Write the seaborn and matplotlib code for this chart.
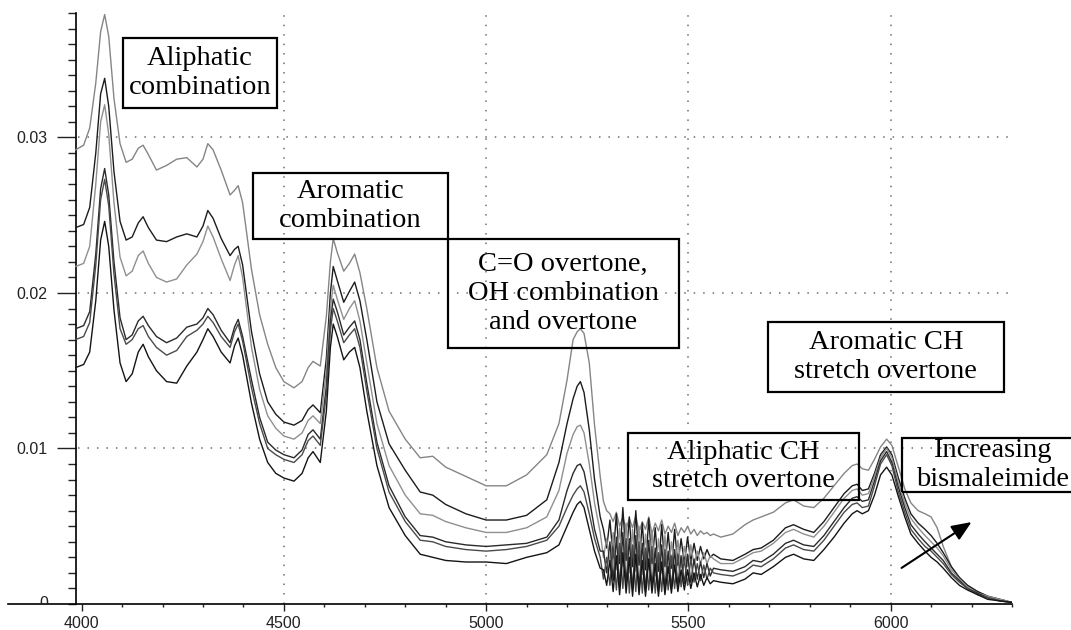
import numpy as np
import pandas as pd
import matplotlib
matplotlib.use("Agg")
import matplotlib.pyplot as plt
import seaborn as sns
from matplotlib.patches import Rectangle, ArrowStyle
from matplotlib.transforms import ScaledTranslation
from matplotlib.ticker import FixedLocator, MultipleLocator, FuncFormatter

# ---------------- data (absorbance values in units of 1e-3) ----------------
WAVENUMBER = [
    3985, 4005, 4020, 4035, 4047, 4057, 4067, 4080, 4095, 4110, 4125, 4140, 4152, 4165, 4185, 4210,
    4235, 4260, 4285, 4300, 4312, 4325, 4345, 4367, 4378, 4387, 4398, 4420, 4440, 4460, 4480, 4500,
    4525, 4545, 4560, 4572, 4590, 4605, 4615, 4622, 4632, 4648, 4662, 4675, 4688, 4705, 4730, 4760,
    4800, 4837, 4868, 4900, 4950, 5000, 5050, 5100, 5150, 5180, 5200, 5215, 5225, 5233, 5242, 5255,
    5268, 5282,
    5290, 5298, 5306, 5314, 5322, 5330, 5338, 5346, 5354, 5362, 5370, 5378, 5386, 5394, 5402, 5410,
    5418, 5426, 5434, 5442, 5450, 5458, 5466, 5474, 5482, 5490, 5498, 5506, 5514, 5522, 5530, 5538,
    5546, 5554, 5562,
    5580, 5610, 5640, 5660, 5680, 5710, 5740, 5760, 5785, 5810, 5835, 5860, 5885, 5905, 5917, 5930,
    5945, 5960, 5975, 5990, 6003, 6018, 6035, 6050, 6068, 6085, 6100, 6115, 6130, 6150, 6170, 6190,
    6215, 6240, 6270, 6300,
]

SAMPLE_1 = [
    29.2, 29.5, 30.6, 33.5, 36.8, 37.9, 36.5, 32.5, 29.6, 28.4, 28.6, 29.3, 29.5, 28.9, 27.9, 28.2,
    28.6, 28.7, 28.1, 28.6, 29.6, 29.2, 27.9, 26.3, 26.6, 26.9, 25.8, 21.5, 18.6, 16.7, 15.2, 14.3,
    13.9, 14.3, 15.2, 15.6, 15.3, 18.5, 22.0, 23.5, 22.6, 21.4, 21.9, 22.5, 21.3, 19.0, 15.2, 12.4,
    10.6, 9.4, 9.5, 8.8, 8.2, 7.6, 7.6, 8.3, 9.6, 11.6, 14.4, 17.0, 17.5, 17.7, 17.4, 15.5,
    11.5, 8.2,
    6.6, 6.0, 5.8, 5.3, 5.9, 5.0, 5.6, 4.8, 5.5, 4.9, 5.7, 4.6, 5.3, 4.8, 5.6, 4.5,
    5.2, 4.7, 5.4, 4.5, 5.0, 4.6, 5.2, 4.4, 4.9, 4.6, 5.0, 4.5, 4.8, 4.4, 4.7, 4.5,
    4.6, 4.4, 4.5,
    4.3, 4.5, 5.1, 5.4, 5.6, 5.9, 6.5, 6.7, 6.3, 6.2, 6.8, 7.6, 8.4, 8.9, 9.0, 8.7,
    8.6, 9.3, 10.1, 10.6, 10.2, 8.9, 7.4, 6.5, 6.0, 5.8, 5.6, 4.9, 3.7, 2.4, 1.7, 1.2,
    0.8, 0.5, 0.3, 0.1,
]

SAMPLE_2 = [
    24.2, 24.4, 25.5, 29.0, 32.8, 33.8, 32.0, 27.8, 24.6, 23.4, 23.6, 24.5, 24.9, 24.2, 23.4, 23.3,
    23.6, 23.8, 23.6, 24.3, 25.3, 24.8, 23.5, 22.4, 22.8, 23.0, 21.8, 17.5, 14.8, 13.0, 12.2, 11.7,
    11.5, 11.8, 12.5, 12.8, 12.3, 15.8, 20.0, 21.7, 20.8, 19.4, 20.1, 20.7, 19.5, 17.0, 13.0, 10.3,
    8.6, 7.2, 7.0, 6.4, 5.8, 5.4, 5.4, 5.7, 6.7, 9.1, 11.6, 13.2, 14.0, 14.3, 13.6, 11.2,
    8.0, 5.6,
    4.8, 3.6, 5.4, 3.0, 5.8, 2.6, 6.2, 2.8, 5.6, 2.4, 6.0, 2.5, 5.2, 2.2, 5.5, 2.6,
    4.9, 2.1, 5.1, 2.4, 4.6, 2.3, 4.8, 2.5, 4.2, 2.6, 4.3, 2.7, 3.9, 2.8, 3.7, 2.9,
    3.5, 3.0, 3.2,
    2.9, 2.8, 3.2, 3.5, 3.6, 4.1, 4.9, 5.1, 4.8, 4.6, 5.3, 6.2, 7.1, 7.6, 7.7, 7.3,
    7.4, 8.4, 9.6, 10.1, 9.6, 8.2, 6.8, 5.8, 5.2, 4.8, 4.4, 3.9, 3.3, 2.4, 1.7, 1.2,
    0.8, 0.5, 0.3, 0.1,
]

SAMPLE_3 = [
    21.7, 21.9, 23.0, 27.0, 31.0, 32.1, 30.2, 25.8, 22.3, 21.1, 21.4, 22.4, 22.7, 21.9, 21.0, 20.7,
    20.9, 21.8, 22.5, 23.3, 24.3, 23.6, 22.2, 20.8, 21.8, 22.4, 21.0, 16.5, 13.8, 12.1, 11.3, 10.8,
    10.6, 11.0, 11.8, 12.1, 11.6, 15.0, 19.0, 20.5, 19.6, 18.3, 19.0, 19.5, 18.2, 15.5, 11.6, 8.9,
    7.0, 5.8, 5.7, 5.3, 4.9, 4.6, 4.6, 4.9, 5.6, 7.3, 9.7, 10.9, 11.4, 11.5, 11.0, 9.0,
    6.5, 4.6,
    3.0, 4.2, 2.6, 4.6, 2.2, 4.9, 2.4, 5.2, 2.0, 4.8, 2.1, 5.0, 1.9, 4.5, 2.2, 4.7,
    1.8, 4.2, 2.0, 4.4, 2.0, 4.0, 2.2, 4.1, 2.3, 3.7, 2.4, 3.8, 2.5, 3.4, 2.6, 3.3,
    2.6, 3.1, 2.9,
    2.6, 2.6, 3.0, 3.3, 3.4, 3.9, 4.6, 4.8, 4.5, 4.3, 5.0, 5.9, 6.8, 7.3, 7.4, 7.0,
    7.1, 8.2, 9.4, 10.0, 9.4, 7.9, 6.5, 5.5, 4.9, 4.4, 4.0, 3.6, 3.1, 2.2, 1.6, 1.1,
    0.7, 0.5, 0.3, 0.1,
]

SAMPLE_4 = [
    17.7, 17.9, 18.8, 22.5, 26.7, 28.0, 26.3, 22.0, 18.4, 17.0, 17.3, 18.2, 18.5, 17.9, 17.2, 16.8,
    17.1, 17.8, 18.0, 18.4, 19.0, 18.6, 17.6, 16.8, 17.8, 18.3, 17.2, 14.4, 12.0, 10.4, 9.9, 9.6,
    9.4, 9.9, 10.9, 11.2, 10.6, 14.0, 18.2, 19.6, 18.8, 17.3, 17.8, 18.2, 17.0, 14.2, 10.4, 7.6,
    5.6, 4.4, 4.3, 4.0, 3.8, 3.7, 3.8, 3.9, 4.3, 5.4, 7.3, 8.4, 8.9, 9.0, 8.5, 6.8,
    4.8, 3.4,
    3.4, 2.0, 4.0, 1.5, 4.3, 1.1, 4.6, 1.3, 4.2, 0.9, 4.4, 1.0, 3.9, 0.8, 4.1, 1.1,
    3.6, 0.8, 3.8, 1.0, 3.4, 1.0, 3.5, 1.2, 3.1, 1.3, 3.2, 1.4, 2.9, 1.6, 2.7, 1.7,
    2.6, 1.8, 2.3,
    2.2, 2.1, 2.4, 2.8, 2.7, 3.2, 3.9, 4.1, 3.8, 3.7, 4.4, 5.3, 6.2, 6.8, 6.9, 6.6,
    6.7, 7.9, 9.2, 9.8, 9.1, 7.6, 6.2, 5.1, 4.5, 4.0, 3.6, 3.2, 2.8, 2.0, 1.5, 1.0,
    0.7, 0.4, 0.2, 0.1,
]

SAMPLE_5 = [
    17.0, 17.2, 18.1, 21.8, 26.0, 27.3, 25.6, 21.2, 17.7, 16.7, 17.0, 17.7, 17.9, 17.2, 16.5, 16.0,
    16.3, 17.2, 17.6, 18.0, 18.5, 18.1, 17.2, 16.5, 17.5, 18.0, 16.9, 13.9, 11.6, 10.0, 9.6, 9.3,
    9.1, 9.6, 10.5, 10.8, 10.2, 13.5, 17.6, 19.0, 18.2, 16.8, 17.3, 17.7, 16.5, 13.7, 10.0, 7.2,
    5.3, 4.1, 4.0, 3.7, 3.5, 3.4, 3.5, 3.7, 4.1, 5.0, 6.2, 7.0, 7.4, 7.6, 7.2, 5.8,
    4.2, 3.0,
    1.6, 3.0, 1.2, 3.6, 0.9, 3.9, 1.0, 4.2, 0.7, 3.8, 0.8, 4.0, 0.7, 3.6, 0.9, 3.7,
    0.7, 3.3, 0.8, 3.5, 0.9, 3.1, 1.0, 3.2, 1.1, 2.9, 1.2, 2.9, 1.4, 2.6, 1.5, 2.5,
    1.6, 2.3, 2.0,
    1.9, 1.8, 2.1, 2.5, 2.4, 2.9, 3.6, 3.8, 3.5, 3.4, 4.1, 5.0, 5.9, 6.4, 6.5, 6.2,
    6.3, 7.6, 9.0, 9.6, 8.9, 7.3, 5.9, 4.8, 4.2, 3.7, 3.4, 3.0, 2.6, 1.9, 1.4, 1.0,
    0.6, 0.4, 0.2, 0.1,
]

SAMPLE_6 = [
    15.2, 15.4, 16.2, 19.5, 23.4, 24.6, 23.0, 18.9, 15.5, 14.3, 14.8, 16.2, 16.7, 15.9, 15.0, 14.3,
    14.2, 15.3, 16.2, 17.0, 17.7, 17.2, 16.2, 15.5, 16.6, 17.1, 16.0, 12.9, 10.6, 9.1, 8.4, 8.1,
    7.9, 8.4, 9.4, 9.8, 9.1, 12.4, 16.5, 18.0, 17.2, 15.7, 16.2, 16.5, 15.2, 12.4, 8.9, 6.2,
    4.4, 3.2, 3.0, 2.8, 2.7, 2.7, 2.6, 3.0, 3.3, 3.8, 5.0, 5.9, 6.4, 6.6, 6.2, 4.8,
    3.4, 2.3,
    2.2, 1.2, 2.8, 0.8, 3.1, 0.6, 3.3, 0.7, 3.0, 0.5, 3.2, 0.6, 2.8, 0.5, 2.9, 0.7,
    2.6, 0.5, 2.7, 0.6, 2.4, 0.7, 2.5, 0.8, 2.2, 0.9, 2.2, 1.0, 2.0, 1.1, 1.9, 1.2,
    1.7, 1.3, 1.5,
    1.4, 1.3, 1.6, 2.0, 1.9, 2.4, 3.0, 3.2, 2.9, 2.8, 3.5, 4.3, 5.2, 5.8, 6.0, 5.8,
    6.0, 7.0, 8.3, 8.8, 8.3, 7.0, 5.6, 4.5, 3.9, 3.4, 3.0, 2.7, 2.3, 1.7, 1.2, 0.9,
    0.6, 0.3, 0.2, 0.1,
]

SAMPLES = ["S1", "S2", "S3", "S4", "S5", "S6"]
SERIES = [SAMPLE_1, SAMPLE_2, SAMPLE_3, SAMPLE_4, SAMPLE_5, SAMPLE_6]
COLORS = ["#858585", "#1c1c1c", "#8f8f8f", "#2a2a2a", "#4a4a4a", "#141414"]

X_MAJOR = [4000, 4500, 5000, 5500, 6000]
Y_MAJOR = [0.01, 0.02, 0.03]
Y_LABELS = ["0.01", "0.02", "0.03"]

# annotation boxes: text, (x0, x1, y0, y1) in data coords
ANNOTATIONS = [
    ("Aliphatic\ncombination", (4102, 4483, 0.0319, 0.0364)),
    ("Aromatic\ncombination", (4423, 4905, 0.0235, 0.0277)),
    ("C=O overtone,\nOH combination\nand overtone", (4905, 5476, 0.01646, 0.02347)),
    ("Aromatic CH\nstretch overtone", (5697, 6279, 0.01363, 0.01814)),
    ("Aliphatic CH\nstretch overtone", (5350, 5921, 0.00669, 0.0110)),
]
INCREASING_TEXT = "Increasing\nbismaleimide"
INCREASING_BOX = (6029, 6470, 0.0072, 0.01068)
INCREASING_TEXT_X = 6251
ARROW_FROM = (6027, 0.00232)
ARROW_TO = (6200, 0.00527)

# ---------------- figure ----------------
sns.set_style("white")
plt.rcParams["font.family"] = ["Liberation Sans", "DejaVu Sans"]

fig = plt.figure(figsize=(10.71, 6.30), dpi=100)
ax = fig.add_axes([8 / 1071, 26 / 630, 1004 / 1071, 591 / 630])

rows = []
for name, vals in zip(SAMPLES, SERIES):
    rows.append(pd.DataFrame({"wavenumber": WAVENUMBER,
                              "absorbance": np.asarray(vals) * 1e-3,
                              "sample": name}))
df = pd.concat(rows, ignore_index=True)

sns.lineplot(data=df, x="wavenumber", y="absorbance", hue="sample",
             palette=COLORS, estimator=None, sort=False, legend=False,
             linewidth=1.0, ax=ax, zorder=3)

ax.set_xlim(3818, 6300)
ax.set_ylim(0, 0.038)
ax.set_xlabel("")
ax.set_ylabel("")

# gridlines (dotted), starting at the y axis
grid_style = dict(colors="#6e6e6e", linewidth=1.1, linestyles=(0, (1, 5.2)), zorder=1)
ax.hlines(Y_MAJOR, 3990, 6300, **grid_style)
ax.vlines(X_MAJOR[1:], 0, 0.038, **grid_style)

# spines
for s in ["top", "right"]:
    ax.spines[s].set_visible(False)
ax.spines["left"].set_position(("data", 3985))
ax.spines["left"].set_linewidth(1.2)
ax.spines["bottom"].set_linewidth(1.2)
ax.spines["left"].set_color("black")
ax.spines["bottom"].set_color("black")

# ticks
ax.xaxis.set_major_locator(FixedLocator(X_MAJOR))
ax.xaxis.set_minor_locator(FixedLocator(list(range(4000, 6301, 100))))
ax.xaxis.set_major_formatter(FuncFormatter(lambda v, p: f"{int(v)}"))
ax.yaxis.set_major_locator(FixedLocator(Y_MAJOR))
ax.set_yticklabels(Y_LABELS)
ax.yaxis.set_minor_locator(MultipleLocator(0.001))

ax.tick_params(which="both", bottom=True, left=True, top=False, right=False)
ax.tick_params(axis="x", which="major", direction="out", length=5.3, width=1.0,
               pad=3, labelsize=11.5, colors="#222222")
ax.tick_params(axis="x", which="minor", direction="out", length=2.0, width=1.0,
               colors="#222222")
ax.tick_params(axis="y", which="major", direction="out", length=13.5, width=1.0,
               pad=6.5, labelsize=11.5, colors="#222222")
ax.tick_params(axis="y", which="minor", direction="out", length=5.8, width=1.0,
               colors="#222222")

# "0" label, half hidden below the x axis
zero = ax.text(3985, 0, "0", fontsize=11.5, color="#222222", ha="right", va="center",
               transform=ax.transData + ScaledTranslation(-(13.5 + 6.5) / 72, 0, fig.dpi_scale_trans),
               clip_on=True)

# annotation boxes
serif = ["Liberation Serif", "DejaVu Serif"]
for text, (x0, x1, y0, y1) in ANNOTATIONS:
    ax.add_patch(Rectangle((x0, y0), x1 - x0, y1 - y0, fill=False, edgecolor="black",
                           linewidth=1.6, clip_on=False, zorder=4))
    ax.text((x0 + x1) / 2, (y0 + y1) / 2, text, ha="center", va="center",
            multialignment="center", fontsize=20.5, family=serif, linespacing=1.2,
            color="black", zorder=5)

x0, x1, y0, y1 = INCREASING_BOX
ax.add_patch(Rectangle((x0, y0), x1 - x0, y1 - y0, fill=False, edgecolor="black",
                       linewidth=1.6, clip_on=False, zorder=4))
ax.text(INCREASING_TEXT_X, (y0 + y1) / 2, INCREASING_TEXT, ha="center", va="center",
        multialignment="center", fontsize=20.5, family=serif, linespacing=1.2,
        color="black", zorder=5, clip_on=False)

ax.annotate("", xy=ARROW_TO, xytext=ARROW_FROM,
            arrowprops=dict(arrowstyle=ArrowStyle("-|>", head_length=0.6, head_width=0.25),
                            mutation_scale=20, lw=1.5, color="black",
                            shrinkA=0, shrinkB=0),
            zorder=6)

fig.savefig("out.png", dpi=100)
